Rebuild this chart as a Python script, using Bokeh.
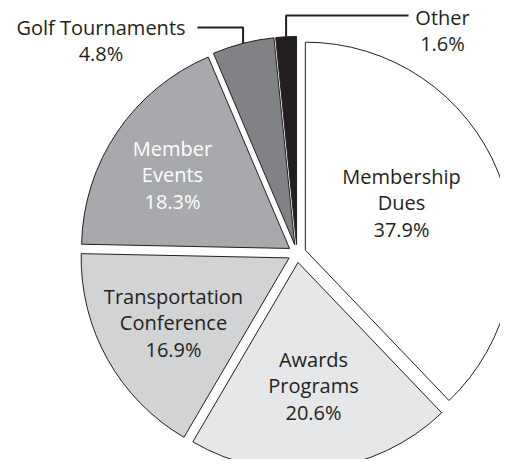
import math
from bokeh.plotting import figure
from bokeh.models import Range1d, ColumnDataSource
from bokeh.core.properties import value
from bokeh.embed import file_html
from bokeh.resources import INLINE

# ---- data ----
categories = ["Membership Dues", "Awards Programs", "Transportation Conference",
              "Member Events", "Golf Tournaments", "Other"]
shares = [37.9, 20.6, 16.9, 18.3, 4.8, 1.6]
label_lines = [["Membership", "Dues"], ["Awards", "Programs"], ["Transportation", "Conference"],
               ["Member", "Events"], ["Golf Tournaments"], ["Other"]]
pct_labels = ["37.9%", "20.6%", "16.9%", "18.3%", "4.8%", "1.6%"]

# ---- styles / layout ----
fills = ["#ffffff", "#e6e7e8", "#d1d3d4", "#a7a9ac", "#808285", "#231f20"]
text_colors = ["#231f20", "#231f20", "#231f20", "#ffffff", "#231f20", "#231f20"]
INK = "#231f20"
W, H = 500, 459
PAGE_X0, PAGE_Y1 = 0, 459          # picture offset of the frame


def dx(px):
    return px - PAGE_X0


def dy(py):
    return PAGE_Y1 - py


CX, CY = dx(296.5), dy(253)         # pie centre
R = 208                              # radius
EXPLODE = 9                          # explode distance
FONT = "Open Sans"
FONT_SIZE = "20px"
LINE_GAP = 26.5
# label block centres (picture px)
label_pos = [(401, 202), (313, 385), (173, 322), (172, 174), (100.5, 40), (442, 30)]
# leader elbows: (elbow y, text-side x) in picture px
leaders = {4: (27, 197), 5: (15, 408)}

total = sum(shares)
p = figure(width=W, height=H, output_backend="svg", toolbar_location=None,
           x_range=Range1d(0, W), y_range=Range1d(0, H), min_border=0)
p.axis.visible = False
p.grid.visible = False
p.outline_line_color = None
p.background_fill_color = "white"
p.border_fill_color = "white"

xs, ys, starts, ends = [], [], [], []
arc_pts = []
cum = 0.0
for s in shares:
    a0 = math.pi / 2 - 2 * math.pi * cum / total
    cum += s
    a1 = math.pi / 2 - 2 * math.pi * cum / total
    mid = (a0 + a1) / 2
    ax = CX + EXPLODE * math.cos(mid)
    ay = CY + EXPLODE * math.sin(mid)
    xs.append(ax)
    ys.append(ay)
    starts.append(a1)
    ends.append(a0)
    arc_pts.append((ax + R * math.cos(mid), ay + R * math.sin(mid)))

src = ColumnDataSource(dict(x=xs, y=ys, start=starts, end=ends, fill=fills, cat=categories))
p.wedge(x="x", y="y", radius=R, start_angle="start", end_angle="end", source=src,
        fill_color="fill", line_color=INK, line_width=1)

# leader lines
for i, (ey, tx) in leaders.items():
    axp, ayp = arc_pts[i]
    p.line(x=[dx(tx), axp, axp], y=[dy(ey), dy(ey), ayp], line_color=INK, line_width=2)

# labels
tx_, ty_, tt_, tc_ = [], [], [], []
for i in range(len(categories)):
    lines = label_lines[i] + [pct_labels[i]]
    n = len(lines)
    cx, cy = label_pos[i]
    for k, ln in enumerate(lines):
        tx_.append(dx(cx))
        ty_.append(dy(cy + (k - (n - 1) / 2) * LINE_GAP))
        tt_.append(ln)
        tc_.append(text_colors[i])
tsrc = ColumnDataSource(dict(x=tx_, y=ty_, t=tt_, c=tc_))
p.text(x="x", y="y", text="t", source=tsrc, text_color="c", text_align="center",
       text_baseline="middle", text_font=value(FONT), text_font_size=FONT_SIZE)

open("out.html", "w").write(file_html(p, INLINE))
